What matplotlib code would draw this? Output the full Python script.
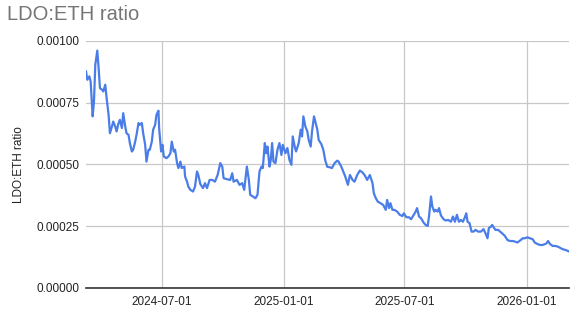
import numpy as np
import matplotlib
matplotlib.use('Agg')
import matplotlib.pyplot as plt
import matplotlib.dates as mdates
from matplotlib.ticker import FuncFormatter
import pandas as pd

START_DATE = "2024-03-09"

# days since START_DATE
days = [
    0, 2, 5, 7, 10, 12, 14, 17, 19, 21, 24, 26, 29, 31, 34, 36, 39, 41, 44, 46,
    49, 51, 54, 56, 59, 61, 64, 66, 69, 71, 74, 76, 79, 81, 84, 86, 89, 91, 94, 96,
    99, 101, 104, 106, 109, 110, 113, 115, 117, 121, 124, 127, 129, 132, 134, 137, 139, 142, 144, 148,
    149, 152, 154, 157, 161, 164, 167, 169, 172, 176, 179, 182, 186, 190, 194, 198, 202, 205, 207, 212,
    217, 220, 222, 227, 231, 235, 238, 242, 245, 247, 251, 255, 258, 261, 264, 266, 269, 271, 273, 276,
    278, 280, 282, 285, 288, 291, 294, 296, 300, 303, 306, 309, 311, 314, 316, 320, 323, 325, 327, 330,
    333, 335, 338, 340, 343, 345, 348, 350, 354, 357, 360, 363, 367, 370, 374, 378, 380, 384, 387, 390,
    394, 397, 401, 404, 408, 412, 416, 419, 423, 427, 431, 433, 436, 439, 443, 447, 451, 453, 456, 458,
    461, 464, 468, 472, 476, 478, 482, 486, 489, 493, 496, 498, 501, 504, 508, 511, 514, 516, 519, 521,
    524, 526, 529, 531, 534, 538, 541, 545, 549, 552, 555, 558, 561, 564, 567, 570, 572, 574, 577, 580,
    583, 586, 590, 594, 598, 601, 604, 606, 609, 611, 614, 616, 620, 623, 626, 630, 634, 638, 642, 645,
    649, 653, 657, 660, 664, 668, 672, 675, 679, 683, 687, 690, 693, 695, 698, 702, 706, 710, 714, 717,
    721, 724, 727,
]

ratio = [
    0.000876, 0.000842, 0.000856, 0.000835, 0.000694, 0.000754, 0.000903, 0.000960, 0.000889, 0.000808,
    0.000802, 0.000795, 0.000822, 0.000768, 0.000700, 0.000626, 0.000653, 0.000673, 0.000653, 0.000633,
    0.000667, 0.000680, 0.000647, 0.000707, 0.000653, 0.000626, 0.000619, 0.000586, 0.000552, 0.000559,
    0.000592, 0.000619, 0.000667, 0.000660, 0.000667, 0.000626, 0.000579, 0.000511, 0.000559, 0.000559,
    0.000592, 0.000640, 0.000660, 0.000700, 0.000717, 0.000647, 0.000552, 0.000579, 0.000532, 0.000525,
    0.000532, 0.000545, 0.000592, 0.000552, 0.000559, 0.000505, 0.000485, 0.000511, 0.000485, 0.000491,
    0.000451, 0.000430, 0.000410, 0.000397, 0.000390, 0.000410, 0.000471, 0.000457, 0.000420, 0.000404,
    0.000424, 0.000404, 0.000437, 0.000437, 0.000430, 0.000457, 0.000505, 0.000491, 0.000444, 0.000440,
    0.000437, 0.000464, 0.000430, 0.000437, 0.000417, 0.000424, 0.000397, 0.000491, 0.000437, 0.000377,
    0.000370, 0.000363, 0.000377, 0.000471, 0.000491, 0.000485, 0.000586, 0.000545, 0.000572, 0.000491,
    0.000518, 0.000586, 0.000511, 0.000505, 0.000559, 0.000586, 0.000538, 0.000579, 0.000545, 0.000566,
    0.000518, 0.000498, 0.000613, 0.000572, 0.000552, 0.000586, 0.000640, 0.000613, 0.000694, 0.000653,
    0.000633, 0.000599, 0.000572, 0.000633, 0.000694, 0.000673, 0.000640, 0.000599, 0.000582, 0.000559,
    0.000515, 0.000490, 0.000488, 0.000485, 0.000505, 0.000515, 0.000511, 0.000491, 0.000471, 0.000451,
    0.000417, 0.000457, 0.000437, 0.000430, 0.000457, 0.000475, 0.000467, 0.000457, 0.000437, 0.000457,
    0.000424, 0.000383, 0.000363, 0.000349, 0.000343, 0.000336, 0.000316, 0.000356, 0.000323, 0.000343,
    0.000316, 0.000316, 0.000309, 0.000296, 0.000291, 0.000302, 0.000286, 0.000286, 0.000278, 0.000296,
    0.000309, 0.000323, 0.000289, 0.000282, 0.000264, 0.000255, 0.000251, 0.000289, 0.000370, 0.000329,
    0.000309, 0.000316, 0.000309, 0.000323, 0.000293, 0.000278, 0.000273, 0.000275, 0.000268, 0.000289,
    0.000268, 0.000296, 0.000268, 0.000275, 0.000268, 0.000286, 0.000302, 0.000268, 0.000262, 0.000228,
    0.000228, 0.000235, 0.000228, 0.000228, 0.000238, 0.000221, 0.000201, 0.000242, 0.000248, 0.000255,
    0.000242, 0.000235, 0.000235, 0.000228, 0.000221, 0.000211, 0.000194, 0.000190, 0.000190, 0.000188,
    0.000184, 0.000192, 0.000201, 0.000201, 0.000205, 0.000201, 0.000197, 0.000184, 0.000178, 0.000174,
    0.000174, 0.000177, 0.000181, 0.000190, 0.000178, 0.000170, 0.000170, 0.000167, 0.000161, 0.000157,
    0.000154, 0.000151, 0.000147,
]

x_ticks = ["2024-07-01", "2025-01-01", "2025-07-01", "2026-01-01"]
y_ticks = [0.0, 0.00025, 0.0005, 0.00075, 0.001]

plt.rcParams['font.family'] = ['Liberation Sans', 'DejaVu Sans']

dates = pd.to_datetime(START_DATE) + pd.to_timedelta(days, unit="D")

fig = plt.figure(figsize=(5.87, 3.22), dpi=100)
ax = fig.add_axes([0.1465, 0.1056, 0.8233, 0.768])

ax.plot(dates, ratio, color="#4a7de8", linewidth=1.6, solid_joinstyle="round")

ax.set_xlim(dates[0], dates[-1])
ax.set_ylim(0, 0.001)
ax.set_xticks(pd.to_datetime(x_ticks))
ax.xaxis.set_major_formatter(mdates.DateFormatter("%Y-%m-%d"))
ax.set_yticks(y_ticks)
ax.yaxis.set_major_formatter(FuncFormatter(lambda v, p: f"{v:.5f}"))

ax.grid(True, color="#c8c8c8", linewidth=0.9)
ax.set_axisbelow(True)
for side in ["top", "right", "left"]:
    ax.spines[side].set_visible(False)
ax.spines["bottom"].set_color("#333333")
ax.spines["bottom"].set_linewidth(1.2)
ax.tick_params(axis="both", length=0, labelsize=8.5, colors="#222222")
ax.tick_params(axis="y", pad=5)
ax.tick_params(axis="x", pad=6)

ax.set_ylabel("LDO:ETH ratio", fontsize=8.5, color="#222222", labelpad=8)
fig.text(0.012, 0.955, "LDO:ETH ratio", fontsize=14.5, color="#757575", va="center", ha="left")

plt.savefig("out.png", dpi=100)
plt.close()
